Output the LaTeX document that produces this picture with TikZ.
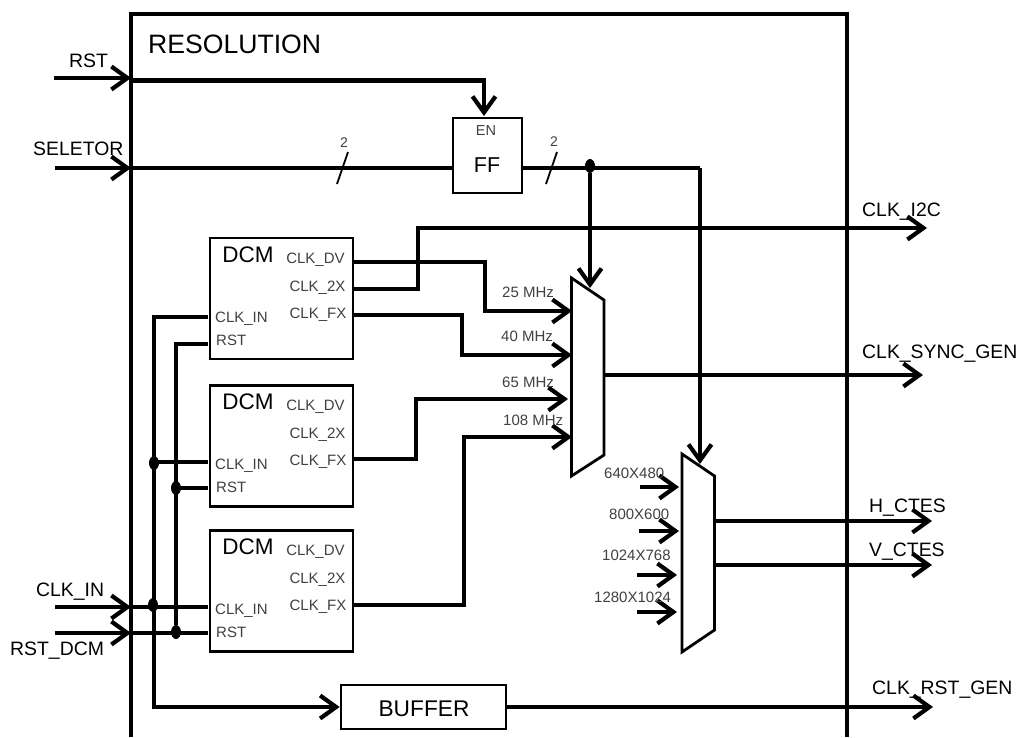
\documentclass[tikz,border=0pt]{standalone}
\usepackage{fontspec}
\setmainfont{Liberation Sans}
\usepackage{tikz}
\usetikzlibrary{arrows.meta,shapes.geometric}

\tikzset{
  wire/.style={line width=4.2pt,line join=miter},
  arrowwire/.style={wire,-{Straight Barb[length=16pt,width=23pt]}},
  frameline/.style={line width=4.2pt},
  blockbox/.style={draw,line width=2.6pt,fill=white,inner sep=0pt},
  muxshape/.style={draw,line width=2.8pt,fill=white,line join=miter},
  junction/.style={ellipse,fill,inner sep=0pt,minimum width=10pt,minimum height=14pt},
  slash/.style={line width=1.8pt},
  biglabel/.style={anchor=base west,inner sep=0pt,font=\fontsize{19.4}{20}\selectfont},
  smalllabel/.style={anchor=base west,inner sep=0pt,text=black!75,font=\fontsize{15}{16}\selectfont},
}

\begin{document}
\begin{tikzpicture}[x=1pt,y=-1pt]

  \useasboundingbox (0,0) rectangle (1021,737);

  \pgfmathsetmacro{\xleft}{131}
  \pgfmathsetmacro{\xright}{847}
  \pgfmathsetmacro{\ytop}{14}
  \pgfmathsetmacro{\ylimit}{737}

  % Outer block
  \draw[frameline,line join=miter] (\xleft,\ylimit) -- (\xleft,\ytop) -- (\xright,\ytop) -- (\xright,\ylimit);
  \node[biglabel,font=\fontsize{26.6}{28}\selectfont] (title) at (148,53) {RESOLUTION};

  % Blocks
  \node[blockbox,minimum width=69pt,minimum height=75pt] (ff) at (487.5,155.5) {};
  \node[blockbox,minimum width=165pt,minimum height=44pt] (buffer) at (423.5,707) {};
  \node[biglabel,anchor=base,text=black!75,font=\fontsize{14.5}{15}\selectfont] (enlabel) at (486,135) {EN};
  \node[biglabel,anchor=base,font=\fontsize{21.5}{22}\selectfont] (fflabel) at (487,172) {FF};
  \node[biglabel,anchor=base,font=\fontsize{22.7}{24}\selectfont] (bufferlabel) at (424,716) {BUFFER};

  % DCM blocks, with their pins
  \foreach \i/\off/\yfx/\yclk/\yrst in {1/0/315/317/344,2/147.5/459/462/488,3/292.5/605/607/633}
  {
    \node[blockbox,minimum width=143pt,minimum height=121pt] (dcm\i) at (281.5,{298.5+\off}) {};
    \node[biglabel,anchor=base,font=\fontsize{22.5}{24}\selectfont] (dcmname\i) at (248,{262+\off}) {DCM};
    \node[smalllabel,anchor=base] (dv\i) at (315.5,{263+\off}) {CLK\_DV};
    \node[smalllabel,anchor=base] (twox\i) at (317.5,{291+\off}) {CLK\_2X};
    \node[smalllabel,anchor=base] (fx\i) at (318,{318+\off}) {CLK\_FX};
    \node[smalllabel] (clkin\i) at (215,{322+\off}) {CLK\_IN};
    \node[smalllabel] (rstin\i) at (216,{345+\off}) {RST};
    \coordinate (pindv\i) at (353,{262+\off});
    \coordinate (pintwox\i) at (353,{289+\off});
    \coordinate (pinfx\i) at (353,\yfx);
    \coordinate (pinclk\i) at (208,\yclk);
    \coordinate (pinrst\i) at (208,\yrst);
  }

  % Multiplexers
  \draw[muxshape] (571.5,278) -- (604,300) -- (604,455) -- (571.5,476) -- cycle;
  \draw[muxshape] (682,454) -- (714.5,476) -- (714.5,630) -- (682,652) -- cycle;

  % Free ends
  \coordinate (rstend) at (54,78);
  \coordinate (selend) at (55,168);
  \coordinate (clkend) at (55,607);
  \coordinate (dcmend) at (55,633);
  \coordinate (rstport) at (131,78);
  \coordinate (selport) at (131,168);
  \coordinate (clkport) at (131,607);
  \coordinate (dcmport) at (131,633);
  \coordinate (rststart) at (131,80.5);
  \coordinate (ffen) at (484,116);
  \coordinate (musel) at (590,288);
  \coordinate (mbsel) at (700,464);
  \coordinate (freqa) at (572,311);
  \coordinate (freqb) at (572,355);
  \coordinate (freqc) at (568,399);
  \coordinate (freqd) at (572,437);
  \coordinate (outi) at (927,228);
  \coordinate (outsync) at (923,375);
  \coordinate (outh) at (932,521);
  \coordinate (outv) at (932,565);
  \coordinate (outrst) at (933,707);

  % Inputs of the block
  \draw[arrowwire] (rstend) -- (rstport);
  \draw[arrowwire] (selend) -- (selport);
  \draw[arrowwire] (clkend) -- (clkport);
  \draw[arrowwire] (dcmend) -- (dcmport);
  \draw[arrowwire] (rststart) -| (ffen);
  \draw[wire] (selport) -- (ff.west |- selport);

  % Select lines
  \node[junction] (seljunc) at (590,166) {};
  \draw[wire] (ff.east |- selport) -- (700,168) coordinate (selcorner);
  \draw[arrowwire] (seljunc) -- (musel);
  \draw[arrowwire] (selcorner) -- (mbsel);
  \draw[slash] (337,184) -- (348,152); % Bus mark
  \draw[slash] (546,184) -- (557,152); % Bus mark
  \node[smalllabel,anchor=base,font=\fontsize{14}{15}\selectfont] (busa) at (344,147) {2};
  \node[smalllabel,anchor=base,font=\fontsize{14}{15}\selectfont] (busb) at (554,146) {2};

  % Clock and reset of the DCM blocks
  \node[junction] (clkjuncb) at (154,463) {};
  \node[junction] (clkjuncc) at (153,605) {};
  \node[junction] (rstjuncb) at (176,488) {};
  \node[junction] (rstjuncc) at (176,632) {};
  \draw[wire] (clkport) -- (pinclk3);
  \draw[wire] (dcmport) -- (pinrst3);
  \draw[wire] (pinclk2 -| clkjuncb) -- (pinclk2);
  \draw[wire] (rstjuncb) -- (pinrst2);
  \draw[arrowwire] (pinclk1) -| (clkjuncb.center) |- (buffer.west);
  \draw[wire] (pinrst1) -| (rstjuncc);

  % Clocks to the first multiplexer
  \draw[arrowwire] (pindv1) -- ++(132,0) |- (freqa);
  \draw[arrowwire] (pinfx1) -- ++(109,0) |- (freqb);
  \draw[arrowwire] (pinfx2) -- ++(63,0) |- (freqc);
  \draw[arrowwire] (pinfx3) -- ++(111,0) |- (freqd);
  \node[smalllabel] (mhza) at (502,297) {25 MHz};
  \node[smalllabel] (mhzb) at (501,341) {40 MHz};
  \node[smalllabel] (mhzc) at (502,387) {65 MHz};
  \node[smalllabel] (mhzd) at (503,425) {108 MHz};

  % Outputs
  \draw[arrowwire] (pintwox1) -- ++(65,0) |- (outi);
  \draw[arrowwire] (604,375) -- (outsync);
  \draw[arrowwire] (714.5,521) -- (outh);
  \draw[arrowwire] (714.5,565) -- (outv);
  \draw[arrowwire] (buffer.east) -- (outrst);

  % Inputs of the second multiplexer
  \foreach \xa/\xb/\yy in {640/679/487,639/679/531,637/677/575,637/677/612}
  {
    \draw[arrowwire] (\xa,\yy) -- (\xb,\yy);
  }
  \node[smalllabel] (resa) at (604,478) {640X480};
  \node[smalllabel] (resb) at (609,519) {800X600};
  \node[smalllabel] (resc) at (602,560) {1024X768};
  \node[smalllabel] (resd) at (594,602) {1280X1024};

  % Port names
  \node[biglabel] (rstname) at (69,67.5) {RST};
  \node[biglabel] (selname) at (33,155) {SELETOR};
  \node[biglabel] (clkname) at (36,596) {CLK\_IN};
  \node[biglabel] (dcmname) at (10,655) {RST\_DCM};
  \node[biglabel] (iname) at (862,216) {CLK\_I2C};
  \node[biglabel] (syncname) at (862,358) {CLK\_SYNC\_GEN};
  \node[biglabel] (hname) at (869,512) {H\_CTES};
  \node[biglabel] (vname) at (869,556) {V\_CTES};
  \node[biglabel] (rstgenname) at (872,694) {CLK\_RST\_GEN};

\end{tikzpicture}
\end{document}
